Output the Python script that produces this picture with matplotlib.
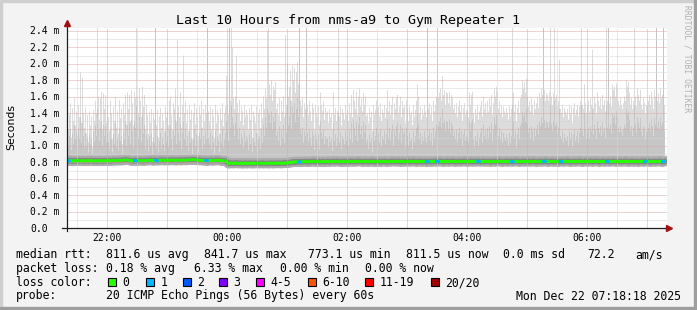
import matplotlib
matplotlib.use('Agg')
import matplotlib.pyplot as plt
import numpy as np
from matplotlib.patches import Rectangle
from matplotlib.lines import Line2D

# ---------------- data ----------------
title = "Last 10 Hours from nms-a9 to Gym Repeater 1"
y_ticks = [0.0, 0.2, 0.4, 0.6, 0.8, 1.0, 1.2, 1.4, 1.6, 1.8, 2.0, 2.2, 2.4]
y_tick_labels = ["0.0", "0.2 m", "0.4 m", "0.6 m", "0.8 m", "1.0 m", "1.2 m",
                 "1.4 m", "1.6 m", "1.8 m", "2.0 m", "2.2 m", "2.4 m"]
x_tick_minutes = [40, 160, 280, 400, 520]          # minutes after 21:20
x_tick_labels = ["22:00", "00:00", "02:00", "04:00", "06:00"]

# highest ping per minute (ms)
rtt_max = [
 1.45,1.20,1.38,1.52,1.10,1.46,1.30,1.58,1.25,1.42,1.12,1.50,1.35,1.90,1.28,1.83,1.40,1.22,1.47,1.15,
 1.38,1.05,1.42,1.25,1.36,0.98,1.44,1.30,1.55,1.40,2.44,1.60,1.32,1.58,1.66,1.20,1.64,1.45,1.62,1.28,
 1.50,1.35,1.18,1.55,1.40,1.08,1.48,1.30,1.60,1.22,1.42,1.15,1.56,1.34,1.45,1.02,1.52,1.38,1.62,1.26,
 1.65,1.45,1.62,1.30,1.68,1.52,1.25,1.66,1.58,2.44,1.60,1.40,1.70,1.55,1.35,1.72,1.48,1.62,1.20,1.50,
 1.38,1.15,1.42,1.28,1.45,1.05,1.40,1.32,2.44,1.25,1.44,1.10,1.36,1.46,1.22,1.40,1.30,1.18,1.48,1.35,
 1.42,1.25,1.55,1.60,1.38,1.20,1.52,1.45,1.70,1.30,2.29,1.48,1.35,1.65,1.22,1.50,2.10,1.40,1.55,1.28,
 1.45,1.18,1.50,1.32,1.44,1.08,1.40,1.52,1.26,1.46,1.35,1.12,1.48,1.38,1.55,1.22,1.45,1.30,1.50,1.40,
 2.44,1.42,1.30,1.48,1.20,1.45,1.36,1.10,1.50,1.28,1.44,1.38,1.15,1.46,1.32,1.52,1.24,1.40,1.48,1.85,
 1.50,1.38,2.44,1.55,2.44,2.20,1.58,1.45,1.60,2.10,1.52,1.40,1.56,1.30,1.48,1.42,1.25,1.50,1.36,1.44,
 1.38,1.20,1.46,1.32,1.50,1.10,1.42,1.36,1.28,1.48,1.15,1.40,1.45,1.22,1.52,1.34,1.60,1.45,1.70,1.58,
 2.40,2.44,1.75,1.62,1.80,1.55,1.72,1.68,1.78,1.45,1.52,1.38,1.58,1.30,1.55,1.42,1.60,1.35,2.35,1.50,
 2.00,1.60,1.72,1.92,1.55,1.98,1.80,1.95,1.65,1.90,2.02,1.75,2.44,1.55,1.48,1.58,1.35,1.52,1.45,2.44,
 1.50,1.38,1.55,1.42,1.30,1.52,1.46,1.20,1.50,1.40,1.35,1.48,1.25,1.65,1.50,1.42,1.55,1.32,1.46,1.40,
 1.42,1.28,1.45,1.35,1.40,1.20,1.65,1.38,1.46,1.30,1.42,2.44,1.36,1.48,1.25,1.45,1.40,1.32,1.50,1.38,
 1.44,1.30,1.52,1.40,1.62,1.35,1.68,1.55,1.45,1.66,1.38,1.60,1.70,1.48,1.58,1.42,1.64,1.50,1.60,1.36,
 1.40,1.28,1.46,1.35,1.42,1.18,1.50,1.38,1.44,1.55,2.17,1.48,1.36,1.52,1.30,1.45,1.40,1.50,1.34,1.46,
 1.68,1.42,1.55,1.38,1.50,1.60,1.32,1.52,1.45,1.58,1.62,1.40,1.48,1.60,1.35,1.55,1.46,1.50,1.28,1.56,
 1.45,1.30,1.48,1.38,1.42,1.25,1.50,1.36,1.44,1.55,1.75,1.60,1.40,1.48,1.32,1.45,1.38,1.50,1.42,1.35,
 2.44,1.45,1.52,1.38,1.48,1.30,1.55,1.42,1.50,1.60,2.44,1.58,1.65,1.70,1.55,1.85,1.62,1.68,1.50,1.66,
 1.64,1.52,1.66,1.48,1.62,1.58,1.45,1.50,1.40,1.52,1.35,1.48,1.55,1.42,1.50,1.30,1.46,1.52,1.38,1.44,
 1.42,1.35,1.65,1.50,1.62,1.66,1.40,1.28,1.45,1.38,1.50,1.32,1.42,1.48,1.55,1.36,1.60,1.45,1.52,1.40,
 1.55,1.42,1.58,1.48,1.62,1.38,1.52,1.70,1.60,1.72,1.66,1.45,1.55,1.40,1.50,1.35,1.48,1.42,1.38,1.46,
 1.40,1.32,1.48,1.36,1.45,2.44,1.65,1.42,1.50,1.30,1.46,1.55,1.40,1.58,1.62,1.80,1.70,1.78,1.65,1.82,
 1.60,1.48,1.55,1.42,1.58,1.50,1.38,1.56,1.45,1.52,1.60,1.46,1.65,1.58,1.70,1.62,2.44,1.68,1.55,1.64,
 1.62,1.55,1.65,2.44,1.60,1.50,1.64,2.44,1.58,1.62,1.48,1.55,2.05,1.45,1.40,1.50,1.35,1.46,1.42,1.38,
 1.45,1.32,1.50,1.40,1.48,1.28,1.46,1.52,1.38,1.44,1.50,1.36,1.48,1.55,2.44,1.50,1.45,1.75,1.52,1.40,
 1.48,1.55,1.42,1.58,1.50,2.17,1.46,1.60,1.52,1.40,1.65,1.55,1.48,1.58,1.45,1.62,1.50,1.56,1.42,2.44,
 1.55,2.44,1.52,1.60,1.48,1.75,1.68,1.72,1.60,1.76,1.70,1.55,1.48,1.58,1.50,1.45,1.52,1.60,1.55,1.80,
 1.72,1.78,1.65,1.50,1.58,1.45,1.55,2.44,1.60,1.48,1.70,1.62,1.55,1.68,1.50,1.45,1.58,1.52,1.40,1.50,
 1.48,1.55,1.62,1.50,1.66,1.58,1.45,1.68,1.60,2.44,1.55,1.64,1.52,1.70,1.58,1.62,2.44,1.50,
]

# second highest ping per minute (ms)
rtt_hi2 = [
 1.05,0.98,1.12,1.20,0.95,1.15,1.02,1.25,1.08,1.18,0.96,1.22,1.10,1.35,1.04,1.28,1.12,0.98,1.16,1.00,
 1.10,0.92,1.14,1.02,1.08,0.90,1.18,1.05,1.25,1.12,1.45,1.20,1.06,1.22,1.30,1.00,1.26,1.12,1.24,1.04,
 1.15,1.05,0.96,1.20,1.08,0.92,1.14,1.02,1.28,0.98,1.10,0.95,1.22,1.06,1.12,0.90,1.18,1.08,1.30,1.00,
 1.25,1.12,1.28,1.02,1.32,1.18,0.98,1.30,1.22,1.50,1.24,1.10,1.35,1.20,1.05,1.38,1.15,1.26,0.96,1.14,
 1.08,0.94,1.12,1.00,1.15,0.90,1.10,1.04,2.44,0.98,1.12,0.92,1.06,1.16,0.96,1.10,1.02,0.94,1.18,1.05,
 1.12,0.98,1.20,1.25,1.08,0.95,1.18,1.12,1.32,1.02,1.40,1.15,1.05,1.28,0.96,1.16,1.30,1.08,1.20,1.00,
 1.12,0.94,1.18,1.04,1.10,0.90,1.08,1.20,1.00,1.14,1.06,0.92,1.16,1.08,1.22,0.96,1.12,1.02,1.18,1.08,
 2.44,1.10,1.02,1.16,0.96,1.12,1.05,0.90,1.18,1.00,1.12,1.06,0.92,1.14,1.04,1.20,0.98,1.08,1.16,1.30,
 1.18,1.06,2.44,1.22,1.50,1.35,1.25,1.12,1.28,1.40,1.20,1.08,1.22,1.02,1.15,1.10,0.98,1.18,1.05,1.12,
 1.08,0.95,1.14,1.02,1.18,0.92,1.10,1.05,1.00,1.16,0.92,1.08,1.12,0.96,1.20,1.04,1.26,1.12,1.35,1.22,
 1.45,1.40,1.38,1.28,1.42,1.20,1.36,1.30,1.40,1.12,1.18,1.06,1.24,1.00,1.20,1.10,1.26,1.04,1.40,1.16,
 1.50,1.25,1.36,1.55,1.20,1.48,1.40,1.52,1.30,1.45,1.58,1.35,2.44,1.20,1.14,1.22,1.04,1.18,1.12,2.44,
 1.16,1.05,1.20,1.10,1.00,1.18,1.12,0.95,1.16,1.08,1.04,1.14,0.96,1.30,1.16,1.10,1.20,1.02,1.12,1.08,
 1.10,0.98,1.12,1.04,1.08,0.94,1.28,1.06,1.14,1.00,1.10,1.40,1.04,1.16,0.96,1.12,1.08,1.02,1.18,1.06,
 1.12,1.00,1.20,1.08,1.28,1.04,1.32,1.22,1.12,1.30,1.06,1.26,1.35,1.14,1.24,1.10,1.30,1.16,1.26,1.04,
 1.08,0.96,1.14,1.04,1.10,0.92,1.18,1.06,1.12,1.22,1.45,1.15,1.04,1.20,1.00,1.12,1.08,1.18,1.02,1.14,
 1.32,1.10,1.22,1.06,1.18,1.26,1.00,1.20,1.12,1.24,1.28,1.08,1.16,1.26,1.04,1.22,1.14,1.18,0.98,1.22,
 1.12,1.00,1.16,1.06,1.10,0.96,1.18,1.04,1.12,1.22,1.38,1.26,1.08,1.16,1.02,1.12,1.06,1.18,1.10,1.04,
 2.44,1.12,1.20,1.06,1.16,1.00,1.22,1.10,1.18,1.26,2.44,1.24,1.30,1.35,1.22,1.45,1.28,1.32,1.18,1.30,
 1.30,1.20,1.32,1.16,1.28,1.24,1.12,1.18,1.08,1.20,1.04,1.16,1.22,1.10,1.18,1.00,1.14,1.20,1.06,1.12,
 1.10,1.04,1.30,1.18,1.28,1.32,1.08,0.98,1.12,1.06,1.18,1.00,1.10,1.16,1.22,1.04,1.26,1.12,1.20,1.08,
 1.22,1.10,1.24,1.16,1.28,1.06,1.20,1.35,1.26,1.38,1.32,1.12,1.22,1.08,1.18,1.04,1.16,1.10,1.06,1.14,
 1.08,1.00,1.16,1.04,1.12,1.50,1.30,1.10,1.18,0.98,1.14,1.22,1.08,1.24,1.28,1.42,1.35,1.40,1.30,1.45,
 1.26,1.16,1.22,1.10,1.24,1.18,1.06,1.22,1.12,1.20,1.26,1.14,1.30,1.24,1.35,1.28,2.44,1.32,1.22,1.30,
 1.28,1.22,1.30,1.50,1.26,1.18,1.30,1.55,1.24,1.28,1.16,1.22,1.45,1.12,1.08,1.18,1.04,1.14,1.10,1.06,
 1.12,1.00,1.18,1.08,1.16,0.98,1.14,1.20,1.06,1.12,1.18,1.04,1.16,1.22,1.50,1.18,1.12,1.40,1.20,1.08,
 1.16,1.22,1.10,1.24,1.18,1.45,1.14,1.26,1.20,1.08,1.30,1.22,1.16,1.24,1.12,1.28,1.18,1.22,1.10,1.50,
 1.22,2.44,1.20,1.26,1.16,1.40,1.34,1.38,1.26,1.42,1.36,1.22,1.16,1.24,1.18,1.12,1.20,1.26,1.22,1.45,
 1.38,1.42,1.32,1.18,1.24,1.12,1.22,1.50,1.26,1.16,1.35,1.28,1.22,1.34,1.18,1.12,1.24,1.20,1.08,1.18,
 1.16,1.22,1.28,1.18,1.32,1.24,1.12,1.34,1.26,2.44,1.22,1.30,1.20,1.35,1.24,1.28,2.44,1.18,
]

# median rtt per minute (microseconds)
median_us = [
 822,815,818,825,820,812,817,823,819,814,821,826,818,816,820,824,817,813,819,822,
 818,823,816,820,825,819,814,818,822,817,821,815,819,824,818,813,820,823,817,821,
 819,824,817,822,816,820,826,821,818,823,827,822,819,825,828,821,824,830,832,828,
 831,826,822,818,824,820,816,821,825,819,823,817,822,826,820,815,821,824,818,822,
 826,820,824,829,823,818,825,821,827,822,819,824,828,821,826,830,824,820,825,829,
 823,827,821,825,830,826,822,828,824,819,825,829,823,827,821,826,830,824,828,822,
 826,831,828,833,829,835,830,832,828,825,830,826,822,827,823,820,825,821,824,819,
 823,818,822,826,820,824,819,823,827,821,825,829,822,818,824,820,816,821,817,812,
 795,783,790,786,792,788,784,790,794,787,791,785,789,793,786,782,788,791,785,789,
 784,788,792,786,790,783,787,791,785,789,793,787,784,788,792,786,790,784,788,791,
 787,783,789,793,786,790,784,788,792,786,789,794,788,785,790,786,792,788,795,790,
 794,798,792,800,804,798,806,802,808,804,810,805,809,803,807,811,805,808,812,806,
 810,804,808,812,806,810,814,807,811,805,809,813,807,803,808,812,806,810,804,809,
 813,807,811,805,809,814,808,812,806,810,815,809,805,810,806,811,807,812,808,804,
 809,813,806,810,814,808,811,805,809,813,807,811,816,810,806,811,807,812,808,813,
 807,811,805,809,814,808,812,806,810,804,808,813,807,811,805,810,814,808,812,806,
 810,805,809,813,807,811,815,809,806,810,814,808,812,806,811,807,813,809,805,810,
 814,808,812,806,810,815,809,813,807,811,805,809,814,808,812,806,810,813,807,811,
 805,809,813,807,811,806,810,814,808,812,806,811,815,809,813,807,811,805,810,814,
 808,812,806,810,814,809,813,807,811,805,809,813,808,812,806,810,815,809,813,807,
 811,805,809,814,808,812,806,810,813,807,811,815,809,805,810,814,808,812,806,811,
 809,813,807,811,805,810,814,808,812,806,811,815,809,813,807,811,805,809,814,808,
 812,806,810,813,808,812,806,811,815,809,813,807,811,805,810,814,808,812,806,810,
 814,808,812,806,810,815,809,813,807,811,805,810,814,808,812,806,811,815,809,813,
 807,811,805,809,814,808,812,806,810,813,807,811,805,810,814,808,812,806,811,815,
 809,813,807,811,805,810,814,808,812,806,810,815,809,813,807,811,805,809,814,808,
 812,806,810,814,808,812,806,811,815,809,813,807,811,805,810,814,808,812,806,810,
 814,808,812,806,810,815,809,813,807,811,805,810,814,808,812,806,811,815,809,813,
 807,811,805,809,814,808,812,806,810,813,807,811,805,810,814,808,812,806,811,815,
 809,813,807,811,805,810,814,808,812,806,811,815,809,813,807,811,805,809,
]

# minutes with lost pings, and how many were lost
loss_minutes = [1, 68, 89, 139, 232, 360, 370, 411, 445, 477, 494, 540, 578, 596]
loss_counts  = [1, 1, 1, 1, 1, 1, 1, 1, 1, 1, 1, 1, 1, 1]

loss_legend_labels = ["0", "1", "2", "3", "4-5", "6-10", "11-19", "20/20"]
loss_legend_colors = ["#26ff00", "#00b8ff", "#0059ff", "#7e00ff",
                      "#ff00ff", "#ff5500", "#ff0000", "#a10000"]
loss_bucket_upper = [0, 1, 2, 3, 5, 10, 19, 20]

stats_rtt = ["811.6 us avg", "841.7 us max", "773.1 us min", "811.5 us now",
             "0.0 ms sd", "72.2", "am/s"]
stats_loss = ["0.18 % avg", "6.33 % max", "0.00 % min", "0.00 % now"]
probe_text = "20 ICMP Echo Pings (56 Bytes) every 60s"
stamp_text = "Mon Dec 22 07:18:18 2025"

# ---------------- drawing ----------------
W, H = 697, 310
MONO = "DejaVu Sans Mono"
fig = plt.figure(figsize=(W / 100, H / 100), dpi=100, facecolor="#f3f3f3")

def fx(px):
    return px / W

def fy(py):
    return 1 - py / H

# frame shading
fig.patches.append(Rectangle((0, fy(2)), 1, 2 / H, transform=fig.transFigure, color="#cfcfcf", zorder=0))
fig.patches.append(Rectangle((0, 0), 2 / W, 1, transform=fig.transFigure, color="#cfcfcf", zorder=0))
fig.patches.append(Rectangle((0, 0), 1, 3 / H, transform=fig.transFigure, color="#9e9e9e", zorder=0))
fig.patches.append(Rectangle((fx(694), 0), 3 / W, 1, transform=fig.transFigure, color="#9e9e9e", zorder=0))

AX_L, AX_R, AX_T, AX_B = 67, 667, 28, 228
PX_PER_MS = 82.1
ax = fig.add_axes([fx(AX_L), fy(AX_B), (AX_R - AX_L) / W, (AX_B - AX_T) / H])
ax.set_facecolor("white")
ymax = (AX_B - AX_T) / PX_PER_MS
ax.set_xlim(0, 600)
ax.set_ylim(0, ymax)
for s in ax.spines.values():
    s.set_visible(False)
ax.set_xticks([])
ax.set_yticks([])

n = min(len(rtt_max), len(rtt_hi2), len(median_us))
med = np.array(median_us[:n]) / 1000.0
mx = np.array(rtt_max[:n])
h2 = np.array(rtt_hi2[:n])
edges = np.arange(n + 1)
xc = np.arange(n) + 0.5

# smoke
ax.stairs(mx, edges, baseline=med, fill=True, color="#dcdcdc", lw=0, zorder=1)
ax.stairs(h2, edges, baseline=med, fill=True, color="#c6c6c6", lw=0, zorder=1.1)
ax.plot(xc, med, color="#acacac", lw=7.0, zorder=1.3)
ax.plot(xc, med, color="#858585", lw=3.8, zorder=1.4)

# grid (drawn over smoke like rrdtool)
for i in range(1, 25):
    v = i * 0.1
    major = (i % 2 == 0)
    ax.axhline(v, color="#dfa8a8" if major else "#d6d6d6", lw=0.72,
               ls=(0, (1, 1)), zorder=2)
for m in range(10, 600, 30):
    major = ((m - 40) % 60 == 0)
    ax.axvline(m, color="#dfa8a8" if major else "#d6d6d6", lw=0.72,
               ls=(0, (1, 1)), zorder=2)

# median line coloured by loss
ax.plot(xc, med, color=loss_legend_colors[0], lw=2.0, zorder=3)
for m, c in zip(loss_minutes, loss_counts):
    if m >= n:
        continue
    idx = next(i for i, ub in enumerate(loss_bucket_upper) if c <= ub)
    a, b = max(m - 1, 0), min(m + 2, n)
    ax.plot(xc[a:b], med[a:b], color=loss_legend_colors[idx], lw=2.0, zorder=3.1)

# axes lines & arrows
fig.lines.append(Line2D([fx(62), fx(669)], [fy(228), fy(228)], transform=fig.transFigure, color="#1f1f1f", lw=0.9))
fig.lines.append(Line2D([fx(67), fx(67)], [fy(231), fy(23)], transform=fig.transFigure, color="#1f1f1f", lw=0.9))
fig.lines.append(Line2D([fx(67)], [fy(23)], transform=fig.transFigure, marker="^", ms=5, color="#a01010", lw=0))
fig.lines.append(Line2D([fx(669)], [fy(228)], transform=fig.transFigure, marker=">", ms=5, color="#a01010", lw=0))

# tick labels
for v, lab in zip(y_ticks, y_tick_labels):
    ypx = AX_B - v * PX_PER_MS
    fig.text(fx(30), fy(ypx + 3.5), lab, family=MONO, fontsize=7, ha="left", va="baseline")
for m, lab in zip(x_tick_minutes, x_tick_labels):
    fig.text(fx(AX_L + m), fy(240.7), lab, family=MONO, fontsize=7, ha="center", va="baseline")

# titles
fig.text(fx(348), fy(24), title, family=MONO, fontsize=9.6, ha="center", va="baseline")
fig.text(fx(11), fy(127), "Seconds", family="DejaVu Sans", fontsize=7.8, rotation=90,
         ha="center", va="center")
fig.text(fx(687), fy(5), "RRDTOOL / TOBI OETIKER", family=MONO, fontsize=5.8, rotation=270,
         ha="center", va="top", color="#b0b0b0")

# legend rows
FS = 8.3
rows = [258, 272, 286, 299.5]
fig.text(fx(16), fy(rows[0]), "median rtt:", family=MONO, fontsize=FS, va="baseline")
for s, xp in zip(stats_rtt, [106.5, 204, 308, 406, 503, 587, 635]):
    fig.text(fx(xp), fy(rows[0]), s, family=MONO, fontsize=FS, va="baseline")
fig.text(fx(16), fy(rows[1]), "packet loss:", family=MONO, fontsize=FS, va="baseline")
for s, xp in zip(stats_loss, [106.5, 194, 280, 365]):
    fig.text(fx(xp), fy(rows[1]), s, family=MONO, fontsize=FS, va="baseline")
fig.text(fx(16), fy(rows[2]), "loss color:", family=MONO, fontsize=FS, va="baseline")
for lab, col, bx in zip(loss_legend_labels, loss_legend_colors,
                        [108, 146, 183, 219, 256, 308, 365, 431]):
    fig.patches.append(Rectangle((fx(bx), fy(286)), 8 / W, 8 / H, transform=fig.transFigure,
                                 facecolor=col, edgecolor="black", lw=0.8))
    fig.text(fx(bx + 14.5), fy(rows[2]), lab, family=MONO, fontsize=FS, va="baseline")
fig.text(fx(16), fy(rows[3]), "probe:", family=MONO, fontsize=FS, va="baseline")
fig.text(fx(106.5), fy(rows[3]), probe_text, family=MONO, fontsize=FS, va="baseline")
fig.text(fx(681), fy(rows[3]), stamp_text, family=MONO, fontsize=FS, va="baseline", ha="right")

fig.savefig("out.png", dpi=100, facecolor=fig.get_facecolor())
